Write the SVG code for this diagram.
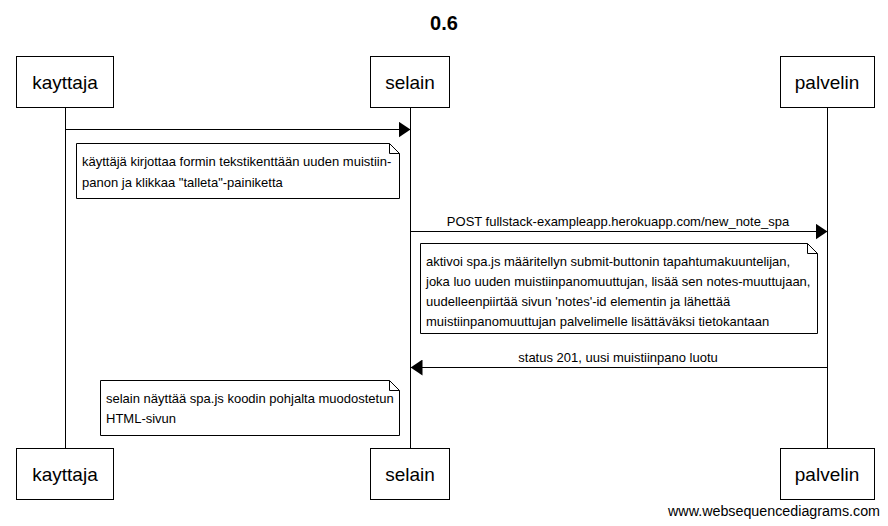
<svg xmlns="http://www.w3.org/2000/svg" width="888" height="526" viewBox="0 0 888 526">
<defs>
<style>
text{font-family:"Liberation Sans",Arial,sans-serif;fill:#000}
.actor rect{fill:#fff;stroke:#000;stroke-width:1}
.actor text{font-size:19px;text-anchor:middle}
.note path{fill:#fff;stroke:#000;stroke-width:1}
.note text{font-size:13px}
.life{stroke:#000;stroke-width:1}
.msg{stroke:#000;stroke-width:1;fill:none}
.lbl{font-size:13px;text-anchor:middle}
</style>
<marker id="ah" viewBox="0 0 12 16" refX="12" refY="8" markerWidth="12" markerHeight="16" markerUnits="userSpaceOnUse" orient="auto">
<path d="M0,0 L12,8 L0,16 Z" fill="#000"/>
</marker>
</defs>
<rect width="888" height="526" fill="#fff"/>
<text x="444" y="30" font-size="20" font-weight="bold" text-anchor="middle">0.6</text>
<g id="lifelines">
<line class="life" x1="65.5" y1="107" x2="65.5" y2="448"/>
<line class="life" x1="410.5" y1="107" x2="410.5" y2="448"/>
<line class="life" x1="827.5" y1="107" x2="827.5" y2="448"/>
</g>
<g id="kayttaja" class="actor">
<rect x="16.5" y="56.5" width="97" height="51"/>
<text x="65" y="89">kayttaja</text>
</g>
<g id="selain" class="actor">
<rect x="370.5" y="56.5" width="79" height="51"/>
<text x="410" y="89">selain</text>
</g>
<g id="palvelin" class="actor">
<rect x="780.5" y="56.5" width="94" height="51"/>
<text x="827" y="89">palvelin</text>
</g>
<g id="kayttaja-bottom" class="actor">
<rect x="16.5" y="448.5" width="97" height="51"/>
<text x="65" y="481">kayttaja</text>
</g>
<g id="selain-bottom" class="actor">
<rect x="370.5" y="448.5" width="79" height="51"/>
<text x="410" y="481">selain</text>
</g>
<g id="palvelin-bottom" class="actor">
<rect x="780.5" y="448.5" width="94" height="51"/>
<text x="827" y="481">palvelin</text>
</g>
<g id="connectors">
<line class="msg" x1="65.5" y1="129.5" x2="410.5" y2="129.5" marker-end="url(#ah)"/>
<line class="msg" x1="410.5" y1="231.5" x2="827.5" y2="231.5" marker-end="url(#ah)"/>
<text class="lbl" x="618" y="226">POST fullstack-exampleapp.herokuapp.com/new_note_spa</text>
<line class="msg" x1="827.5" y1="367.5" x2="410.5" y2="367.5" marker-end="url(#ah)"/>
<text class="lbl" x="618" y="362">status 201, uusi muistiinpano luotu</text>
</g>
<g id="note1" class="note">
<path d="M76.5,143.5 H389.5 L399.5,153.5 V198.5 H76.5 Z M389.5,143.5 V153.5 H399.5"/>
<text x="82" y="166">käyttäjä kirjottaa formin tekstikenttään uuden muistiin-</text>
<text x="82" y="187">panon ja klikkaa "talleta"-painiketta</text>
</g>
<g id="note2" class="note">
<path d="M420.5,243.5 H807.5 L817.5,253.5 V333.5 H420.5 Z M807.5,243.5 V253.5 H817.5"/>
<text x="426" y="266">aktivoi spa.js määritellyn submit-buttonin tapahtumakuuntelijan,</text>
<text x="426" y="286">joka luo uuden muistiinpanomuuttujan, lisää sen notes-muuttujaan,</text>
<text x="426" y="306">uudelleenpiirtää sivun 'notes'-id elementin ja lähettää</text>
<text x="426" y="326">muistiinpanomuuttujan palvelimelle lisättäväksi tietokantaan</text>
</g>
<g id="note3" class="note">
<path d="M100.5,380.5 H389.5 L399.5,390.5 V435.5 H100.5 Z M389.5,380.5 V390.5 H399.5"/>
<text x="106" y="403">selain näyttää spa.js koodin pohjalta muodostetun</text>
<text x="106" y="423">HTML-sivun</text>
</g>
<text x="668" y="516" font-size="14" textLength="212" lengthAdjust="spacingAndGlyphs">www.websequencediagrams.com</text>
</svg>
